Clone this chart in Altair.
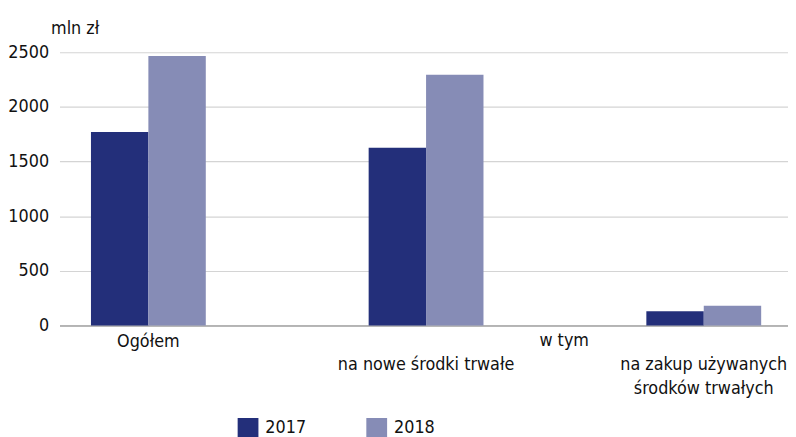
import altair as alt
import pandas as pd

categories = ["Ogółem", "na nowe środki trwałe", "na zakup używanych środków trwałych"]
label_lines = [["Ogółem"], ["", "na nowe środki trwałe"], ["", "na zakup używanych", "środków trwałych"]]
years = ["2017", "2018"]
values_2017 = [1770, 1625, 130]
values_2018 = [2465, 2295, 180]
y_ticks = [0, 500, 1000, 1500, 2000, 2500]
colors = ["#232f7a", "#868cb6"]
note_text = "w tym"

rows = []
for c, a, b in zip(categories, values_2017, values_2018):
    rows.append({"category": c, "year": years[0], "value": a})
    rows.append({"category": c, "year": years[1], "value": b})
df = pd.DataFrame(rows)

# label expression built from label_lines
expr_parts = []
for c, lines in zip(categories, label_lines):
    arr = "[" + ",".join("'" + l + "'" for l in lines) + "]"
    expr_parts.append(f"datum.value == '{c}' ? {arr}")
label_expr = " : ".join(expr_parts) + " : datum.value"

FONT = "DejaVu Sans Condensed"

x_scale = alt.Scale(domain=categories, paddingInner=0.5865, paddingOuter=0.105, align=0.54)

bars = alt.Chart(df).mark_bar().encode(
    x=alt.X("category:N", sort=categories, scale=x_scale,
            axis=alt.Axis(title=None, labelAngle=0, labelExpr=label_expr,
                          labelFont=FONT, labelFontSize=18, labelColor="#111111",
                          labelLineHeight=24, labelPadding=7, ticks=False,
                          domainColor="#a6a6a6", domainWidth=1.5, labelAlign="center",
                          labelBaseline="top", labelLimit=400)),
    xOffset=alt.XOffset("year:N", sort=years, scale=alt.Scale(paddingInner=0, paddingOuter=0)),
    y=alt.Y("value:Q", scale=alt.Scale(domain=[0, 2500], nice=False),
            axis=alt.Axis(values=y_ticks, format="d", title="mln zł", titleAngle=0, titleAlign="left",
                          titleBaseline="alphabetic", titleX=-9, titleY=-19,
                          titleFont=FONT, titleFontSize=18, titleFontWeight="normal",
                          titleColor="#111111",
                          labelFont=FONT, labelFontSize=18, labelColor="#111111",
                          labelPadding=11, ticks=False, domain=False,
                          gridColor="#d4d4d4", gridWidth=1.2)),
    color=alt.Color("year:N", sort=years, scale=alt.Scale(domain=years, range=colors),
                    legend=alt.Legend(title=None, orient="none", legendX=180, legendY=369.5,
                                      direction="horizontal", symbolType="square",
                                      symbolSize=441, symbolStrokeWidth=0, symbolOpacity=1,
                                      labelFont=FONT, labelFontSize=18, labelColor="#111111",
                                      labelOffset=7, columnPadding=60)),
)

note_df = pd.DataFrame({"category": [categories[2]], "text": [note_text]})
note = alt.Chart(note_df).mark_text(
    font=FONT, fontSize=18, color="#111111", baseline="top", align="center", dx=-83, dy=7
).encode(
    x=alt.X("category:N", sort=categories, bandPosition=0),
    y=alt.value(276),
    text="text:N",
)

chart = alt.layer(bars, note).properties(
    width=736, height=276,
    autosize=alt.AutoSizeParams(type="none"),
    padding={"left": 52, "top": 42.5, "right": 0, "bottom": 110.5},
).configure_view(stroke=None).configure_axisY(gridOpacity=1)

chart.save("out.html", embed_options={"renderer": "svg", "actions": False})
